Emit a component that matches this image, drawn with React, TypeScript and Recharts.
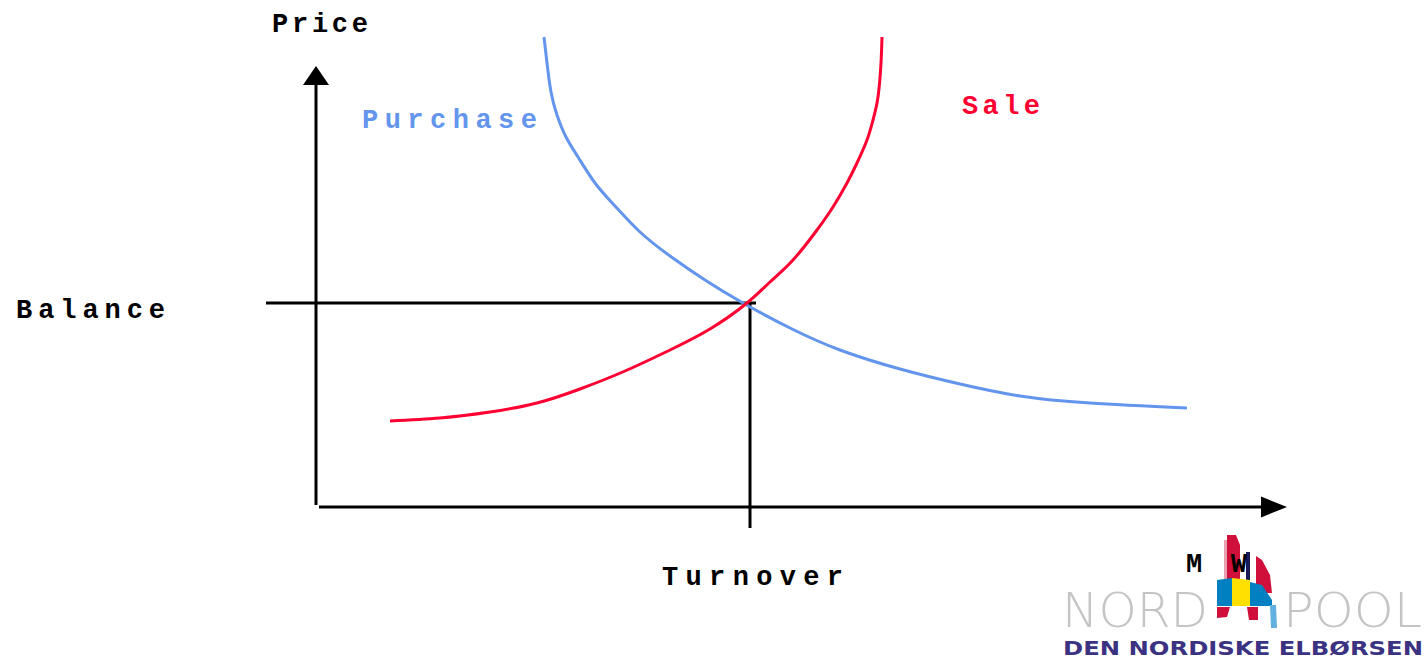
import React from "react";
import { ComposedChart, Line, XAxis, YAxis, ReferenceLine } from "recharts";

// Units: x = MW, y = price (arbitrary units)
const purchaseMW = [22.8, 23.1, 23.5, 24.1, 25.0, 26.2, 27.9, 29.9, 32.4, 35.4, 38.9, 42.7, 47.4, 52.4, 58.4, 64.4, 70.4, 77.4, 87.1];
const purchasePrice = [47.0, 44.4, 41.5, 39.2, 37.0, 35.0, 32.4, 30.1, 27.5, 25.1, 22.7, 20.4, 17.9, 15.7, 13.8, 12.3, 11.1, 10.4, 9.9];

const saleMW = [7.4, 12.4, 17.4, 22.1, 26.4, 30.9, 35.4, 39.4, 43.1, 45.4, 47.7, 50.1, 51.7, 53.1, 54.1, 55.1, 55.7, 56.2, 56.5, 56.6];
const salePrice = [8.6, 8.9, 9.5, 10.4, 11.8, 13.6, 15.7, 17.8, 20.4, 22.5, 24.7, 27.7, 30.0, 32.4, 34.4, 36.7, 38.7, 41.0, 44.4, 47.0];

const balancePrice = 20.4;
const turnoverMW = 43.4;
const balanceLineStartMW = -5.0;
const balanceLineEndMW = 44.0;
const turnoverLineBottom = -2.1;
const xAxisStart = 0.3;
const xAxisEnd = 97.1;
const yAxisStart = 0.2;
const yAxisEnd = 44.1;

const xDomain = [-31.6, 110.8];
const yDomain = [-15.2, 50.7];

const purchaseData = purchaseMW.map((x, i) => ({ x, y: purchasePrice[i] }));
const saleData = saleMW.map((x, i) => ({ x, y: salePrice[i] }));

const arrowShape = (len: number, half: number) => (p: any) => {
  const { x1, y1, x2, y2 } = p;
  const dx = x2 - x1;
  const dy = y2 - y1;
  const L = Math.hypot(dx, dy) || 1;
  const ux = dx / L;
  const uy = dy / L;
  const bx = x2 - ux * len;
  const by = y2 - uy * len;
  const nx = -uy;
  const ny = ux;
  return (
    <g>
      <line x1={x1} y1={y1} x2={bx} y2={by} stroke="#000" strokeWidth={3} />
      <polygon
        points={`${x2},${y2} ${bx + nx * half},${by + ny * half} ${bx - nx * half},${by - ny * half}`}
        fill="#000"
      />
    </g>
  );
};

const MONO = "'Liberation Mono', 'Courier New', monospace";

export default function App() {
  return (
    <div style={{ position: "absolute", left: 0, top: 0, width: 1424, height: 659, background: "#fff" }}>
      <ComposedChart width={1424} height={659} margin={{ top: 0, right: 0, bottom: 0, left: 0 }}>
        <XAxis type="number" dataKey="x" domain={xDomain} allowDataOverflow hide />
        <YAxis type="number" dataKey="y" domain={yDomain} allowDataOverflow hide />
        <ReferenceLine
          segment={[{ x: 0, y: yAxisStart }, { x: 0, y: yAxisEnd }]}
          ifOverflow="visible"
          shape={arrowShape(19, 13)}
        />
        <ReferenceLine
          segment={[{ x: xAxisStart, y: 0 }, { x: xAxisEnd, y: 0 }]}
          ifOverflow="visible"
          shape={arrowShape(26, 10.5)}
        />
        <ReferenceLine
          segment={[{ x: balanceLineStartMW, y: balancePrice }, { x: balanceLineEndMW, y: balancePrice }]}
          ifOverflow="visible"
          stroke="#000"
          strokeWidth={3}
        />
        <ReferenceLine
          segment={[{ x: turnoverMW, y: balancePrice }, { x: turnoverMW, y: turnoverLineBottom }]}
          ifOverflow="visible"
          stroke="#000"
          strokeWidth={3}
        />
        <Line
          data={purchaseData}
          dataKey="y"
          type="natural"
          stroke="#6495ED"
          strokeWidth={3}
          dot={false}
          activeDot={false}
          isAnimationActive={false}
        />
        <Line
          data={saleData}
          dataKey="y"
          type="natural"
          stroke="#FF0033"
          strokeWidth={3}
          dot={false}
          activeDot={false}
          isAnimationActive={false}
        />
      </ComposedChart>
      <svg
        width={1424}
        height={659}
        style={{ position: "absolute", left: 0, top: 0, pointerEvents: "none" }}
      >
        <g fontFamily={MONO} fontWeight="bold" fontSize={27}>
          <text x={272} y={32} textLength={96} lengthAdjust="spacing" fill="#000">Price</text>
          <text x={362} y={128} textLength={175} lengthAdjust="spacing" fill="#6495ED">Purchase</text>
          <text x={962} y={114} textLength={78} lengthAdjust="spacing" fill="#FF0033">Sale</text>
          <text x={16} y={318} textLength={149} lengthAdjust="spacing" fill="#000">Balance</text>
          <text x={662} y={585} textLength={181} lengthAdjust="spacing" fill="#000">Turnover</text>
        </g>
        {/* Nord Pool logo */}
        <g>
          <text x={1062} y={627} fontFamily="'DejaVu Sans', sans-serif" fontWeight={300} fontSize={48} textLength={146} lengthAdjust="spacingAndGlyphs" fill="#c4c4c4">NORD</text>
          <text x={1283} y={627} fontFamily="'DejaVu Sans', sans-serif" fontWeight={300} fontSize={48} textLength={139} lengthAdjust="spacingAndGlyphs" fill="#c4c4c4">POOL</text>
          <polygon points="1227,535 1236,535 1240,545 1240,580 1227,580" fill="#d0103a" />
          <polygon points="1224,540 1227,540 1227,580 1224,580" fill="#e8a0b0" />
          <polygon points="1246,552 1250,552 1250,580 1246,580" fill="#1a1a5a" />
          <polygon points="1256,556 1262,560 1270,575 1272,593 1256,593" fill="#d0103a" />
          <polygon points="1217,580 1232,578 1232,606 1217,606" fill="#0080c0" />
          <polygon points="1232,578 1250,580 1250,606 1232,606" fill="#ffe000" />
          <polygon points="1250,582 1262,585 1272,600 1272,606 1250,606" fill="#0080c0" />
          <polygon points="1217,607 1230,607 1227,617 1217,618" fill="#d0103a" />
          <polygon points="1247,607 1258,607 1258,620 1249,620" fill="#d0103a" />
          <polygon points="1270,605 1276,605 1277,628 1271,628" fill="#60b0e0" />
          <text x={1063} y={655} fontFamily="'DejaVu Sans', sans-serif" fontWeight="bold" fontSize={20} textLength={360} lengthAdjust="spacingAndGlyphs" fill="#3b3281">DEN NORDISKE ELBØRSEN</text>
        </g>
        <text x={1186} y={572} fontFamily={MONO} fontWeight="bold" fontSize={27} textLength={61} lengthAdjust="spacing" fill="#000">MW</text>
      </svg>
    </div>
  );
}
